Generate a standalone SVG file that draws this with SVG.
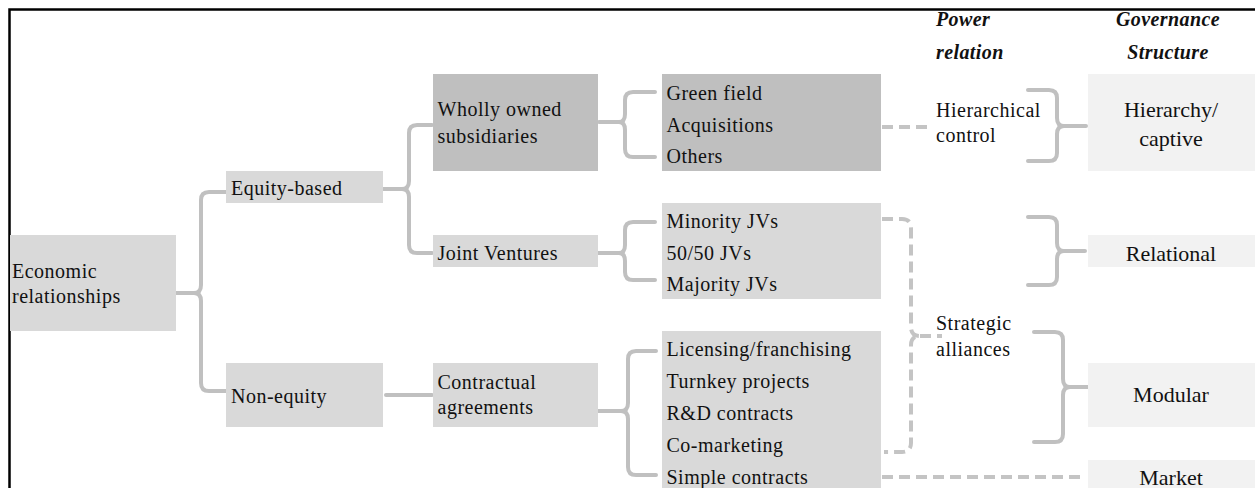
<svg xmlns="http://www.w3.org/2000/svg" width="1255" height="488" viewBox="0 0 1255 488">
  <style>
    text { font-family: "Liberation Serif", "Times New Roman", serif; font-size: 20px; fill: #111; letter-spacing: 0.5px; }
    .gov { font-size: 22px; text-anchor: middle; letter-spacing: 0; }
    .head { font-weight: bold; font-style: italic; letter-spacing: 0.4px; }
    .light { fill: #d9d9d9; }
    .dark { fill: #bfbfbf; }
    .pale { fill: #f2f2f2; }
    .brace { fill: none; stroke: #c0c0c0; stroke-width: 4; stroke-linecap: round; stroke-linejoin: round; }
    .dash { fill: none; stroke: #c4c4c4; stroke-width: 4; stroke-dasharray: 11 6; }
  </style>

  <!-- outer frame (top and left edges) -->
  <path d="M9.5,488 V9.5 H1255" fill="none" stroke="#000" stroke-width="2.5"/>

  <!-- column headers -->
  <g id="header-power">
    <text class="head" x="936" y="26">Power</text>
    <text class="head" x="936" y="59">relation</text>
  </g>
  <g id="header-governance">
    <text class="head" x="1168" y="26" text-anchor="middle">Governance</text>
    <text class="head" x="1168" y="59" text-anchor="middle">Structure</text>
  </g>

  <!-- connectors -->
  <g id="connectors">
    <!-- Economic relationships -> Equity-based / Non-equity -->
    <path class="brace" d="M174,293 H194 M226,192 H209 Q201,192 201,200 V285 Q201,293 194,293 Q201,293 201,301 V383 Q201,391 209,391 H226"/>
    <!-- Equity-based -> Wholly owned / Joint Ventures -->
    <path class="brace" d="M381,189 H402 M432,125 H417 Q409,125 409,133 V181 Q409,189 402,189 Q409,189 409,197 V245 Q409,253 417,253 H432"/>
    <!-- Non-equity -> Contractual agreements -->
    <path class="brace" d="M386,395 H432"/>
    <!-- Wholly owned -> Green field / Acquisitions / Others -->
    <path class="brace" d="M599,122 H619 M655,92 H633 Q625,92 625,100 V114 Q625,122 619,122 Q625,122 625,130 V149 Q625,157 633,157 H655"/>
    <!-- Joint Ventures -> Minority / 50-50 / Majority -->
    <path class="brace" d="M597,253 H619 M655,222 H633 Q625,222 625,230 V245 Q625,253 619,253 Q625,253 625,261 V272 Q625,280 633,280 H655"/>
    <!-- Contractual agreements -> contract types -->
    <path class="brace" d="M598,411 H621 M656,351 H636 Q628,351 628,359 V403 Q628,411 621,411 Q628,411 628,419 V467 Q628,475 636,475 H656"/>

    <!-- Hierarchical control -> Hierarchy/captive -->
    <path class="brace" d="M1028,90 H1049 Q1057,90 1057,98 V118 Q1057,126 1064,126 Q1057,126 1057,134 V153 Q1057,161 1049,161 H1028 M1064,126 H1086"/>
    <!-- Relational -->
    <path class="brace" d="M1028,217 H1049 Q1057,217 1057,225 V243 Q1057,251 1064,251 Q1057,251 1057,259 V277 Q1057,285 1049,285 H1028 M1064,251 H1085"/>
    <!-- Strategic alliances -> Modular -->
    <path class="brace" d="M1034,332 H1055 Q1063,332 1063,340 V379 Q1063,387 1070,387 Q1063,387 1063,395 V434 Q1063,442 1055,442 H1034 M1070,387 H1091"/>

    <!-- Wholly owned subsidiaries -> Hierarchical control -->
    <path class="dash" d="M882,127 H930"/>
    <!-- Joint Ventures and contracts -> Strategic alliances -->
    <path class="dash" d="M882,219 H902 Q911,219 911,228 V327 Q911,336 920,336 Q911,336 911,345 V443 Q911,452 902,452 H884 M920,336 H942"/>
    <!-- Simple contracts -> Market -->
    <path class="dash" d="M882,477 H1086"/>
  </g>

  <!-- nodes -->
  <g id="economic-relationships">
    <rect class="light" x="10" y="235" width="166" height="96"/>
    <text x="12" y="278">Economic</text>
    <text x="12" y="303">relationships</text>
  </g>
  <g id="equity-based">
    <rect class="light" x="226" y="171" width="157" height="32"/>
    <text x="231" y="195">Equity-based</text>
  </g>
  <g id="non-equity">
    <rect class="light" x="226" y="363" width="157" height="64"/>
    <text x="231" y="403">Non-equity</text>
  </g>
  <g id="wholly-owned">
    <rect class="dark" x="433" y="74" width="165" height="97"/>
    <text x="437.5" y="116">Wholly owned</text>
    <text x="437.5" y="143">subsidiaries</text>
  </g>
  <g id="joint-ventures">
    <rect class="light" x="433" y="235" width="165" height="32"/>
    <text x="437.5" y="260">Joint Ventures</text>
  </g>
  <g id="contractual-agreements">
    <rect class="light" x="433" y="363" width="165" height="64"/>
    <text x="437.5" y="389">Contractual</text>
    <text x="437.5" y="414">agreements</text>
  </g>
  <g id="wholly-owned-types">
    <rect class="dark" x="662" y="74" width="219" height="97"/>
    <text x="666.5" y="100">Green field</text>
    <text x="666.5" y="132">Acquisitions</text>
    <text x="666.5" y="163">Others</text>
  </g>
  <g id="jv-types">
    <rect class="light" x="662" y="203" width="219" height="96"/>
    <text x="666.5" y="228">Minority JVs</text>
    <text x="666.5" y="260">50/50 JVs</text>
    <text x="666.5" y="291">Majority JVs</text>
  </g>
  <g id="contract-types">
    <rect class="light" x="662" y="331" width="219" height="160"/>
    <text x="666.5" y="356">Licensing/franchising</text>
    <text x="666.5" y="388">Turnkey projects</text>
    <text x="666.5" y="420">R&amp;D contracts</text>
    <text x="666.5" y="452">Co-marketing</text>
    <text x="666.5" y="484">Simple contracts</text>
  </g>
  <g id="hierarchical-control">
    <text x="936" y="117">Hierarchical</text>
    <text x="936" y="142">control</text>
  </g>
  <g id="strategic-alliances">
    <text x="936" y="330">Strategic</text>
    <text x="936" y="356">alliances</text>
  </g>
  <g id="hierarchy-captive">
    <rect class="pale" x="1088" y="74" width="167" height="97"/>
    <text class="gov" x="1171" y="117">Hierarchy/</text>
    <text class="gov" x="1171" y="146">captive</text>
  </g>
  <g id="relational">
    <rect class="pale" x="1088" y="235" width="167" height="32"/>
    <text class="gov" x="1171" y="261">Relational</text>
  </g>
  <g id="modular">
    <rect class="pale" x="1088" y="363" width="167" height="64"/>
    <text class="gov" x="1171" y="402">Modular</text>
  </g>
  <g id="market">
    <rect class="pale" x="1088" y="460" width="167" height="32"/>
    <text class="gov" x="1171" y="485">Market</text>
  </g>
</svg>
